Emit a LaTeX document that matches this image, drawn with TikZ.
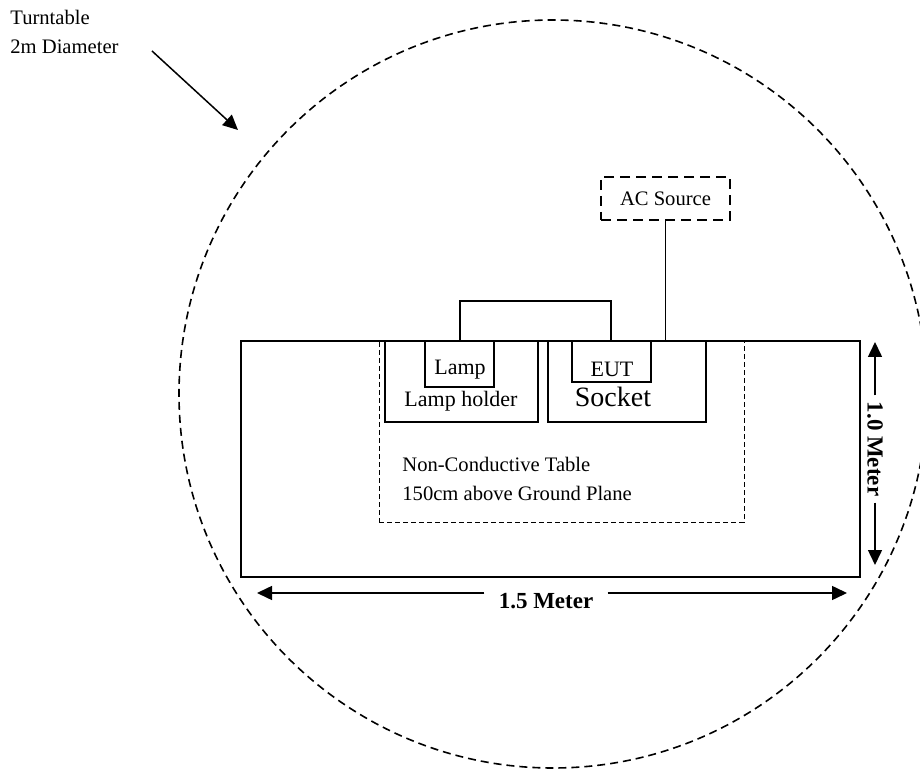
\documentclass[tikz,border=0pt]{standalone}
\usepackage{fontspec}
\setmainfont{Liberation Serif}
\usetikzlibrary{arrows.meta,positioning}
\tikzset{
  box/.style={draw,line width=0.75pt,inner sep=0pt},
  dimarrow/.style={line width=0.75pt,-{Triangle[length=7.5pt,width=7pt]}},
  dimlabel/.style={font=\fontsize{11.5}{13}\selectfont\bfseries,inner sep=2pt}
}
\begin{document}
\begin{tikzpicture}[x=0.5pt,y=-0.5pt]
  \fontsize{10.3}{14.5}\selectfont
  \useasboundingbox (0,0) rectangle (920,769);
  % Turntable
  \draw[line width=0.8pt,dash pattern=on 4pt off 2.5pt] (553,394) circle[radius=187pt];
  \node (ttlabel) [anchor=north west,align=left,inner sep=0pt] at (10,10) {Turntable\\2m Diameter};
  \coordinate (ttStart) at (152,51);
  \coordinate (ttTip) at (238,130);
  \draw[dimarrow] (ttStart) -- (ttTip);
  % Table
  \node (tbl) [draw,line width=1.2pt,minimum width=309.5pt,minimum height=118pt] at (550.5,459) {};
  \node (area) [draw,line width=0.45pt,dash pattern=on 2.5pt off 1.5pt,minimum width=182.5pt,minimum height=90.5pt] at (561.5,431.5) {};
  \node (areatext) [anchor=west,align=left,inner sep=0pt] at (402,479) {Non-Conductive Table\\150cm above Ground Plane};
  % Lamp holder and socket
  \node (holder) [box,minimum width=76.5pt,minimum height=40.5pt] at (461.5,381.5) {};
  \node (socket) [box,minimum width=79pt,minimum height=40.5pt] at (627,381.5) {};
  \node (lamp) [box,minimum width=34.5pt,minimum height=23pt] at (459.5,364) {};
  \node (eut) [box,minimum width=39.5pt,minimum height=20.5pt] at (611.5,361.5) {};
  \node (lamptext) [font=\fontsize{11}{13}\selectfont] at (460,370) {Lamp};
  \node (holdertext) [font=\fontsize{11}{13}\selectfont] at (461,401) {Lamp holder};
  \node (euttext) [font=\fontsize{11}{13}\selectfont] at (612,369) {EUT};
  \node (sockettext) [font=\fontsize{14}{16}\selectfont] at (613,397) {Socket};
  % Wires
  \coordinate (wireL) at (460,341);
  \coordinate (wireR) at (611,341);
  \draw[line width=0.75pt] (wireL) -- ++(0,-40) -| (wireR);
  \node (ac) [draw,line width=0.75pt,dash pattern=on 5pt off 3pt,minimum width=64.5pt,minimum height=21.5pt] at (665.5,198.5) {AC Source};
  \draw[line width=0.75pt] (ac.south) -- (ac.south |- tbl.north);
  % Dimensions
  \coordinate (vTop) at (875,342);
  \coordinate (vBot) at (875,565);
  \node (vlab) [dimlabel,rotate=-90,inner xsep=3pt] at (875,449) {1.0 Meter};
  \draw[dimarrow] (vlab) -- (vTop);
  \draw[dimarrow] (vlab) -- (vBot);
  \coordinate (hL) at (257,593);
  \coordinate (hR) at (847,593);
  \node (hlab) [dimlabel,inner xsep=7pt] at (546,601) {1.5 Meter};
  \draw[dimarrow] (hlab.west |- hL) -- (hL);
  \draw[dimarrow] (hlab.east |- hR) -- (hR);
\end{tikzpicture}
\end{document}
